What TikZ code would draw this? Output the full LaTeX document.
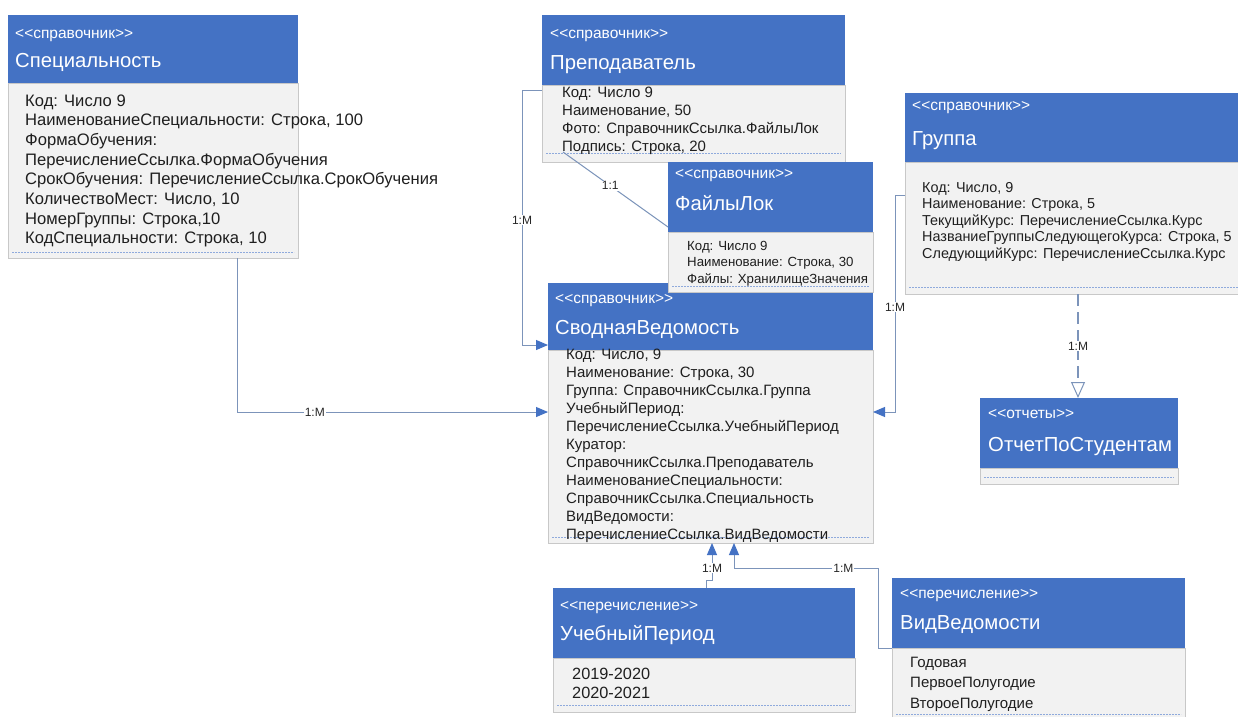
\documentclass[tikz,border=0pt]{standalone}
\usepackage{fontspec}
\setmainfont{Liberation Sans}
\usetikzlibrary{arrows.meta}
\definecolor{hblue}{HTML}{4472C4}
\definecolor{bgray}{HTML}{F2F2F2}
\definecolor{bline}{HTML}{C8C8C8}
\definecolor{sepblue}{HTML}{8FAADC}
\definecolor{cline}{HTML}{7C94BA}
\newcommand\umlbox[7]{%
  \node[hdr, minimum width={(#4-#2)*1pt}, minimum height={(#5-#3)*1pt}] (#1-h) at (#2,#3) {};
  \node[bodyb, minimum width={(#4-#2)*1pt}, minimum height={(#6-#5)*1pt}] (#1-b) at (#2,#5) {};
  \draw[sepl] ([shift={(4,-#7)}]#1-b.south west) -- ([shift={(-4,-#7)}]#1-b.south east);
}
\newcommand\umlhead[6]{% name, x, stereo baseline, title baseline, stereo, title
  \node[stereo] (#1-s) at (#2,#3) {<{}<#5>{}>};
  \node[ttl] (#1-t) at (#2,#4) {#6};
}
\newcommand\umlattrs[6]{% name, x, first baseline, step, size, list
  \foreach \t [count=\i] in {#6}
    \node[attr, font=\fontsize{#5}{#5}\selectfont] (#1-a\i) at (#2,{#3+(\i-1)*#4}) {\t};
}
\begin{document}
\begin{tikzpicture}[x=1pt,y=-1pt,
  hdr/.style={fill=hblue, draw=none, anchor=north west, inner sep=0pt, outer sep=0pt},
  bodyb/.style={fill=bgray, draw=bline, line width=0.8pt, anchor=north west, inner sep=0pt, outer sep=0pt},
  sepl/.style={draw=sepblue, line width=0.9pt, dash pattern=on 2pt off 1pt},
  stereo/.style={text=white, anchor=base west, inner sep=0pt, font=\fontsize{15.5}{16}\selectfont},
  ttl/.style={text=white, anchor=base west, inner sep=0pt, font=\fontsize{20.3}{22}\selectfont},
  attr/.style={text=black!88, anchor=base west, inner sep=0pt},
  conn/.style={draw=cline, line width=1pt, -{Triangle[length=12pt,width=10pt,color=hblue]}},
  dconn/.style={draw=cline, line width=1.2pt, dash pattern=on 12pt off 6pt, -{Triangle[open,length=16pt,width=14pt,color=cline,line width=1pt]}},
  lbl/.style={fill=white, inner sep=1pt, text=black!85, font=\fontsize{12}{12}\selectfont},
]
\clip (0,0) rectangle (1238,716);
\fill[white] (0,0) rectangle (1238,716);

% Специальность
\umlbox{spec}{8}{15}{298}{83}{258}{6}
\umlhead{spec}{15}{38}{67}{справочник}{Специальность}
\umlattrs{spec}{25}{106}{19.7}{16.6}{{Код: Число 9},{НаименованиеСпециальности: Строка, 100},{ФормаОбучения:},{ПеречислениеСсылка.ФормаОбучения},{СрокОбучения: ПеречислениеСсылка.СрокОбучения},{КоличествоМест: Число, 10},{НомерГруппы: Строка,10},{КодСпециальности: Строка, 10}}

% Преподаватель
\umlbox{prep}{542}{15}{845}{85}{162}{9}
\umlhead{prep}{550}{38}{69}{справочник}{Преподаватель}
\umlattrs{prep}{562}{97}{18.3}{15}{{Код: Число 9},{Наименование, 50},{Фото: СправочникСсылка.ФайлыЛок},{Подпись: Строка, 20}}

% СводнаяВедомость
\umlbox{svod}{548}{283}{873}{350}{543}{6}
\umlhead{svod}{555}{303}{334}{справочник}{СводнаяВедомость}
\umlattrs{svod}{566}{359}{18}{15}{{Код: Число, 9},{Наименование: Строка, 30},{Группа: СправочникСсылка.Группа},{УчебныйПериод:},{ПеречислениеСсылка.УчебныйПериод},{Куратор:},{СправочникСсылка.Преподаватель},{НаименованиеСпециальности:},{СправочникСсылка.Специальность},{ВидВедомости:},{ПеречислениеСсылка.ВидВедомости}}

% ФайлыЛок
\umlbox{fl}{668}{162}{873}{232}{292}{6}
\umlhead{fl}{675}{178}{210}{справочник}{ФайлыЛок}
\umlattrs{fl}{687}{250}{16.5}{13.25}{{Код: Число 9},{Наименование: Строка, 30},{Файлы: ХранилищеЗначения}}

% Группа
\umlbox{grp}{905}{93}{1250}{162}{294}{7}
\umlhead{grp}{912}{110}{145}{справочник}{Группа}
\umlattrs{grp}{922}{192}{16.6}{14.4}{{Код: Число, 9},{Наименование: Строка, 5},{ТекущийКурс: ПеречислениеСсылка.Курс},{НазваниеГруппыСледующегоКурса: Строка, 5},{СледующийКурс: ПеречислениеСсылка.Курс}}

% ОтчетПоСтудентам
\umlbox{otch}{980}{398}{1178}{468}{484}{7}
\umlhead{otch}{988}{418}{451}{отчеты}{ОтчетПоСтудентам}

% УчебныйПериод
\umlbox{up}{553}{588}{855}{658}{712}{7}
\umlhead{up}{560}{610}{640}{перечисление}{УчебныйПериод}
\umlattrs{up}{572}{679}{19.5}{16.3}{{2019-2020},{2020-2021}}

% ВидВедомости
\umlbox{vv}{892}{578}{1185}{648}{722}{8}
\umlhead{vv}{900}{598}{629}{перечисление}{ВидВедомости}
\umlattrs{vv}{910}{667}{20.5}{15}{{Годовая},{ПервоеПолугодие},{ВтороеПолугодие}}

% connectors
\draw[conn] (spec-b.south -| 237,0) |- node[lbl, pos=0.625] (l1) {1:M} (svod-b.west |- 0,412);
\draw[conn] (prep-b.west |- 0,90) -- ++(-20,0) |- node[lbl, pos=0.255] (l2) {1:M} (svod-h.west |- 0,345);
\draw[draw=cline, line width=1pt] ([shift={(21,-10)}]prep-b.south west) -- node[lbl, pos=0.45] (l3) {1:1} ([shift={(0,-5)}]fl-h.south west);
\draw[conn] (grp-b.west |- 0,195) -- ++(-10,0) |- node[lbl, pos=0.258] (l4) {1:M} (svod-b.east |- 0,412);
\draw[dconn] (grp-b.south -| 1078,0) -- node[lbl] (l5) {1:M} (otch-h.north -| 1078,0);
\draw[conn] (up-h.north -| 706,0) -- ++(0,-8) -- ++(6,0) -- node[lbl, pos=0.32] (l6) {1:M} (svod-b.south -| 712,0);
\draw[conn] (vv-h.south west) -- ++(-14,0) -- ++(0,-80) -| node[lbl, pos=0.12] (l7) {1:M} (svod-b.south -| 734,0);
\end{tikzpicture}
\end{document}
